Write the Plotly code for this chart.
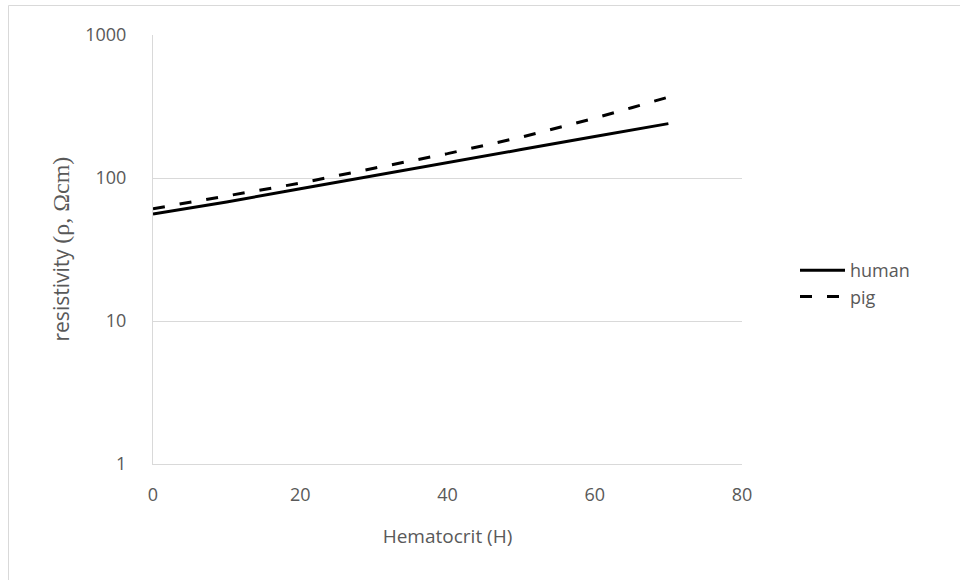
import plotly.graph_objects as go

# Hematocrit values (%) and blood resistivity (ohm·cm)
hematocrit = [0, 10, 20, 30, 40, 50, 60, 65, 70]
human_rho = [56, 68, 84, 104, 128, 158, 195, 217, 240]
pig_rho = [61, 75, 92, 117, 148, 193, 262, 310, 368]

x_ticks = [0, 20, 40, 60, 80]
y_ticks = [1, 10, 100, 1000]

W, H = 960, 580
L, R, T, B = 153, 218, 35, 116
pw, ph = W - L - R, H - T - B

def px_to_paper_x(px):
    return (px - L) / pw

def px_to_paper_y(py):
    return (H - B - py) / ph

grey_text = "#595959"
font_family = "Open Sans, Lato, sans-serif"

fig = go.Figure()
fig.add_trace(go.Scatter(
    x=hematocrit, y=human_rho, mode="lines", name="human",
    line=dict(color="black", width=3),
))
fig.add_trace(go.Scatter(
    x=hematocrit, y=pig_rho, mode="lines", name="pig",
    line=dict(color="black", width=3, dash="12px,15px"),
))

fig.update_layout(
    width=W, height=H,
    margin=dict(l=L, r=R, t=T, b=B),
    paper_bgcolor="white", plot_bgcolor="white",
    font=dict(family=font_family, size=18, color=grey_text),
    showlegend=True,
    legend=dict(
        x=px_to_paper_x(795), y=px_to_paper_y(252),
        xanchor="left", yanchor="top",
        font=dict(size=18, color=grey_text),
        bgcolor="rgba(0,0,0,0)",
        itemwidth=45,
    ),
    xaxis=dict(
        range=[0, 80], tickvals=x_ticks, ticktext=[str(v) for v in x_ticks],
        showgrid=False, zeroline=False,
        showline=True, linecolor="#d9d9d9", linewidth=1,
        ticks="", ticklabelstandoff=14,
        tickfont=dict(size=18, color=grey_text),
        title=dict(text="Hematocrit (H)", standoff=25,
                   font=dict(size=19, color=grey_text)),
    ),
    yaxis=dict(
        type="log", range=[0, 3], tickvals=y_ticks,
        ticktext=[str(v) for v in y_ticks],
        showgrid=True, gridcolor="#d9d9d9", gridwidth=1,
        zeroline=False, showline=True, linecolor="#d9d9d9", linewidth=1,
        ticks="", ticklabelstandoff=22,
        tickfont=dict(size=18, color=grey_text),
    ),
)

# Vertical axis title, placed beside the tick labels
fig.add_annotation(
    xref="paper", yref="paper",
    x=px_to_paper_x(60), y=0.5,
    xanchor="center", yanchor="middle",
    textangle=-90, showarrow=False,
    text="resistivity <span style='font-family:Liberation Serif;font-size:24px'>(ρ, Ωcm)</span>",
    font=dict(size=21, color=grey_text, family=font_family),
)

# Light frame around the chart area
fig.add_shape(
    type="rect", xref="paper", yref="paper",
    x0=px_to_paper_x(8.5), x1=px_to_paper_x(975),
    y0=px_to_paper_y(595), y1=px_to_paper_y(5.5),
    line=dict(color="#d9d9d9", width=1), layer="below",
)

fig.write_html("out.html")
